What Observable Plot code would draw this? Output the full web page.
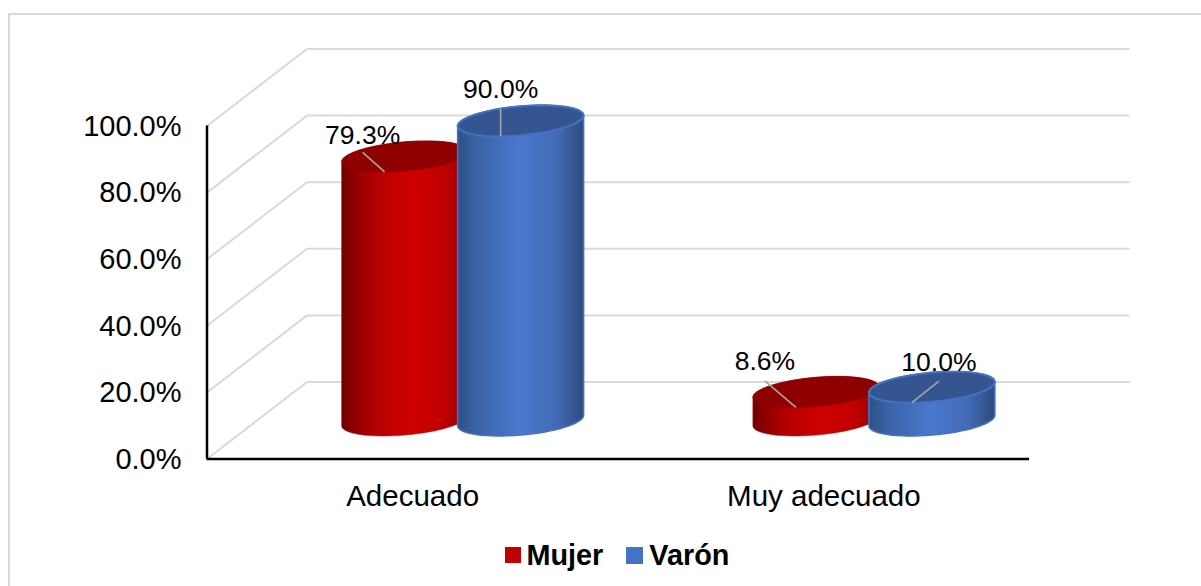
<!DOCTYPE html>
<html>
<head>
<meta charset="utf-8">
<script src="https://cdn.jsdelivr.net/npm/d3@7"></script>
<script src="https://cdn.jsdelivr.net/npm/@observablehq/plot@0.6"></script>
<style>
  html, body { margin: 0; padding: 0; background: #fff; width: 1201px; height: 586px; overflow: hidden; }
  body { font-family: "Liberation Sans", Arial, sans-serif; position: relative; }
  #frame { position: absolute; left: 8px; top: 13px; width: 1300px; height: 700px; border: 2px solid #d9d9d9; box-sizing: border-box; pointer-events: none; }
  #chart svg { display: block; background: transparent; }
  #legend { display: flex; align-items: center; height: 56px; margin-left: 505px; margin-top: -3px; font-size: 28.8px; font-weight: bold; color: #000; line-height: 1; }
  #legend i { display: inline-block; width: 15.5px; height: 15.5px; margin-right: 6px; }
  #legend i + span + i { width: 17px; height: 17px; }
  #legend span { margin-right: 23px; }
</style>
</head>
<body>
<div id="frame"></div>
<div id="chart"></div>
<div id="legend"></div>
<script>
// ---- data ----
const categories = ["Adecuado", "Muy adecuado"];
const seriesNames = ["Mujer", "Varón"];
const mujer = [79.3, 8.6];
const varon = [90.0, 10.0];
const yTicks = [0, 20, 40, 60, 80, 100];

// ---- style / chart geometry, in scale units ----
const colors = {Mujer: "#c00000", "Varón": "#4472c4"};
const topColors = {Mujer: "#8f0000", "Varón": "#34558f"};
const pxX = 2 / 822.5, pxY = 100 / 333;           // one pixel, in x and y scale units
const depthX = 100 * pxX, depthY = 77 * pxY;       // wall depth of the 3D box
const barShift = 58 * pxX;                         // series offset from the group centre
const rimA = 63 * pxX, rimB = 14.6 * pxY, rimC = 5.3 * pxY; // ellipse half axis + tilt
// manual label nudges from the bar-top centre (px), as in the original: [dx, dy]
const labelNudge = {Mujer: [[-42, -21], [-51, -30]], "Varón": [[-20, -31], [7, -25]]};
const leaderGap = {Mujer: [17, 19], "Varón": [19, 19]};

const bars = seriesNames.flatMap((s, si) =>
  categories.map((c, ci) => {
    const value = (si === 0 ? mujer : varon)[ci];
    return {
      series: s, category: c, ci, value,
      cx: ci + 0.5 + depthX / 2 + (si === 0 ? -barShift : barShift),
      base: depthY / 2,
      nudge: labelNudge[s][ci],
      gap: leaderGap[s][ci]
    };
  })
);

const ring = (b, level, from, to) =>
  d3.range(0, 33).map(i => {
    const t = from + (to - from) * i / 32;
    return {
      x: b.cx + rimA * Math.cos(t),
      y: b.base + level + rimC * Math.cos(t) - rimB * Math.sin(t)
    };
  });
const bodyShape = b => {
  const pts = [...ring(b, b.value, Math.PI, 2 * Math.PI), ...ring(b, 0, 0, Math.PI)];
  return [...pts, pts[0]];
};
const topShape = b => ring(b, b.value, 0, 2 * Math.PI);

const gradient = (id, stops) =>
  `<linearGradient id="${id}" x1="0" x2="1" y1="0" y2="0">` +
  stops.map(([o, c]) => `<stop offset="${o}" stop-color="${c}"/>`).join("") +
  `</linearGradient>`;
const defs = () => d3.create("svg:defs").html(
  gradient("g-Mujer", [[0, "#6f0000"], [0.12, "#950000"], [0.3, "#b80000"], [0.55, "#cf0000"], [0.8, "#c00000"], [1, "#990000"]]) +
  gradient("g-Varón", [[0, "#2f5087"], [0.15, "#3a62a6"], [0.5, "#4a79cf"], [0.8, "#4269b4"], [1, "#2c4a7c"]])
).node();

const bodyMarks = bars.flatMap(b => [
  Plot.line(bodyShape(b), {x: "x", y: "y", fill: `url(#g-${b.series})`,
    stroke: b.series === "Varón" ? "#4472c4" : "#b00000", strokeWidth: b.series === "Varón" ? 1.5 : 0.5}),
  Plot.line(topShape(b), {x: "x", y: "y", fill: topColors[b.series],
    stroke: b.series === "Varón" ? "#4472c4" : "#8f0000", strokeWidth: b.series === "Varón" ? 2 : 0.5})
]);

const leaderEnd = b => ({x: b.cx - 20 * pxX, y: b.base + b.value - 15.5 * pxY});
const labelPos = b => ({x: b.cx + b.nudge[0] * pxX, y: b.base + b.value - b.nudge[1] * pxY});

const plot = Plot.plot({
  width: 1201,
  height: 530,
  marginLeft: 206.5,
  marginRight: 172,
  marginTop: 125.5,
  marginBottom: 71.5,
  style: {fontFamily: '"Liberation Sans", Arial, sans-serif', color: "#000", background: "transparent", overflow: "visible"},
  x: {domain: [0, 2], nice: false},
  y: {domain: [0, 100], nice: false},
  marks: [
    defs,
    // walls of the 3D box
    Plot.link(yTicks, {x1: 0, y1: d => d, x2: depthX, y2: d => d + depthY, stroke: "#d9d9d9", strokeWidth: 2}),
    Plot.link(yTicks, {x1: depthX, y1: d => d + depthY, x2: 2 + depthX, y2: d => d + depthY, stroke: "#d9d9d9", strokeWidth: 2}),
    ...bodyMarks,
    // front axes
    Plot.ruleX([0], {y1: 0, y2: 100, stroke: "#000", strokeWidth: 2.5}),
    Plot.ruleY([0], {x1: 0, x2: 2, stroke: "#000", strokeWidth: 2.5}),
    Plot.axisY({ticks: yTicks, tickFormat: d => d.toFixed(1) + "%", tickSize: 0, tickPadding: 25.5, fontSize: 29, dy: 0.5, label: null}),
    Plot.axisX({ticks: categories.map((c, i) => i + 0.5), tickFormat: d => categories[d - 0.5], tickSize: 0, tickPadding: 26, fontSize: 29.5, label: null}),
    // leader lines and value labels
    Plot.link(bars, {
      x1: d => labelPos(d).x, y1: d => labelPos(d).y - d.gap * pxY,
      x2: d => leaderEnd(d).x, y2: d => leaderEnd(d).y,
      stroke: "#a6a6a6", strokeWidth: 1.6
    }),
    Plot.text(bars, {
      x: d => labelPos(d).x, y: d => labelPos(d).y,
      text: d => d.value.toFixed(1) + "%", fontSize: 26.5, fill: "#000", textAnchor: "middle"
    })
  ]
});
document.getElementById("chart").append(plot);

const legend = document.getElementById("legend");
seriesNames.forEach(s => {
  const i = document.createElement("i");
  i.style.background = colors[s];
  const t = document.createElement("span");
  t.textContent = s;
  legend.append(i, t);
});
</script>
</body>
</html>
